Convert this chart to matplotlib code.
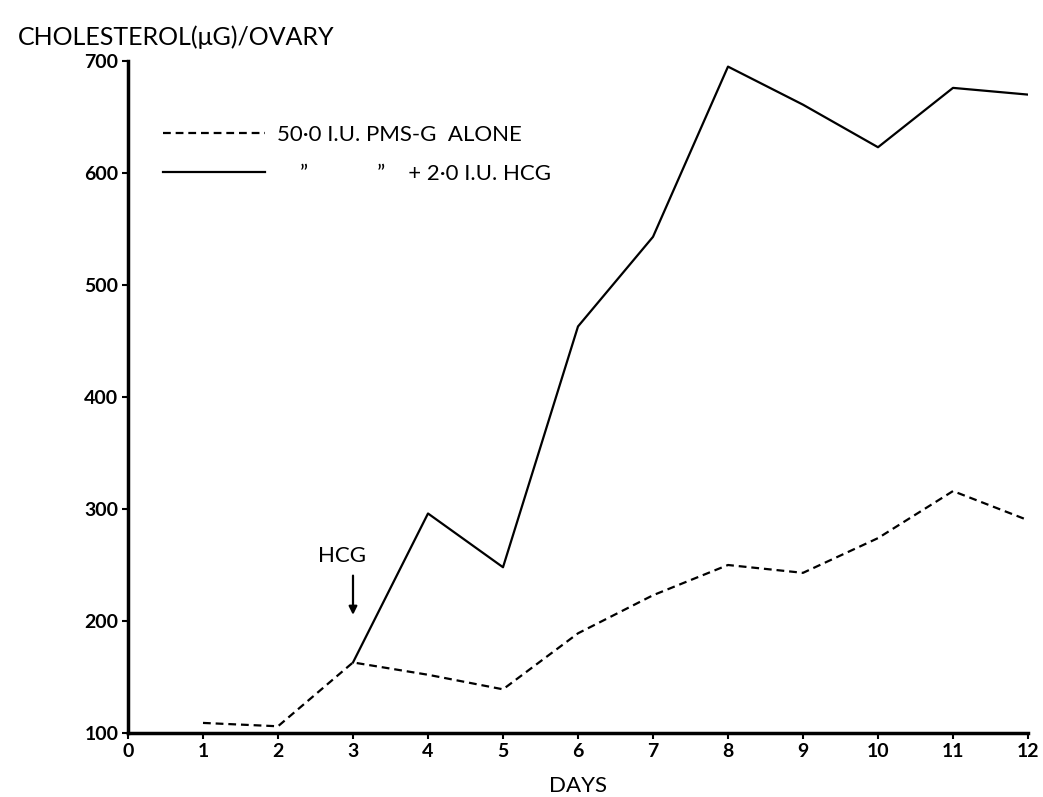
import matplotlib
matplotlib.use("Agg")
import matplotlib.pyplot as plt

plt.rcParams['font.family'] = ['Lato', 'DejaVu Sans']

days = [1, 2, 3, 4, 5, 6, 7, 8, 9, 10, 11, 12]
pmsg_alone = [109, 106, 163, 152, 139, 189, 223, 250, 243, 274, 316, 290]
hcg_days = [3, 4, 5, 6, 7, 8, 9, 10, 11, 12]
pmsg_hcg = [163, 296, 248, 463, 543, 695, 661, 623, 676, 670]
xticks = list(range(0, 13))
yticks = [100, 200, 300, 400, 500, 600, 700]

label_alone = '50·0 I.U. PMS-G  ALONE'
label_hcg = '    ”            ”    + 2·0 I.U. HCG'

fig = plt.figure(figsize=(10.43, 7.97), dpi=100)
ax = fig.add_axes([128/1043, 64/797, 900/1043, 672/797])

l1, = ax.plot(days, pmsg_alone, color='black', lw=1.6, ls=(0, (3.5, 2.2)),
              label=label_alone)
l2, = ax.plot(hcg_days, pmsg_hcg, color='black', lw=1.6, label=label_hcg)

ax.set_xlim(0, 12)
ax.set_ylim(100, 700)
ax.set_xticks(xticks)
ax.set_xticklabels([str(t) for t in xticks], fontsize=14, fontweight='bold')
ax.set_yticks(yticks)
ax.set_yticklabels([str(t) for t in yticks], fontsize=14, fontweight='bold')
ax.tick_params(axis='both', direction='out', length=4, width=1.5, pad=3)
for s in ['top', 'right']:
    ax.spines[s].set_visible(False)
for s in ['left', 'bottom']:
    ax.spines[s].set_linewidth(2.5)

ax.set_xlabel('DAYS', fontsize=16, labelpad=12)
fig.text(18/1043, 1 - 45/797, 'CHOLESTEROL(μG)/OVARY', fontsize=18,
         va='baseline', ha='left')

ax.annotate('', xy=(3, 203), xytext=(3, 243),
            arrowprops=dict(arrowstyle='-|>', color='black', lw=1.6,
                            mutation_scale=12))
ax.text(2.85, 249, 'HCG', fontsize=16, ha='center', va='bottom')

leg = ax.legend(handles=[l1, l2], loc='upper left',
                bbox_to_anchor=(163/1043, 1 - 125/797),
                bbox_transform=fig.transFigure, frameon=False,
                handlelength=4.6, handletextpad=0.55, labelspacing=0.85,
                borderpad=0, borderaxespad=0, prop={'size': 16})

fig.savefig('out.png', dpi=100, facecolor='white')
